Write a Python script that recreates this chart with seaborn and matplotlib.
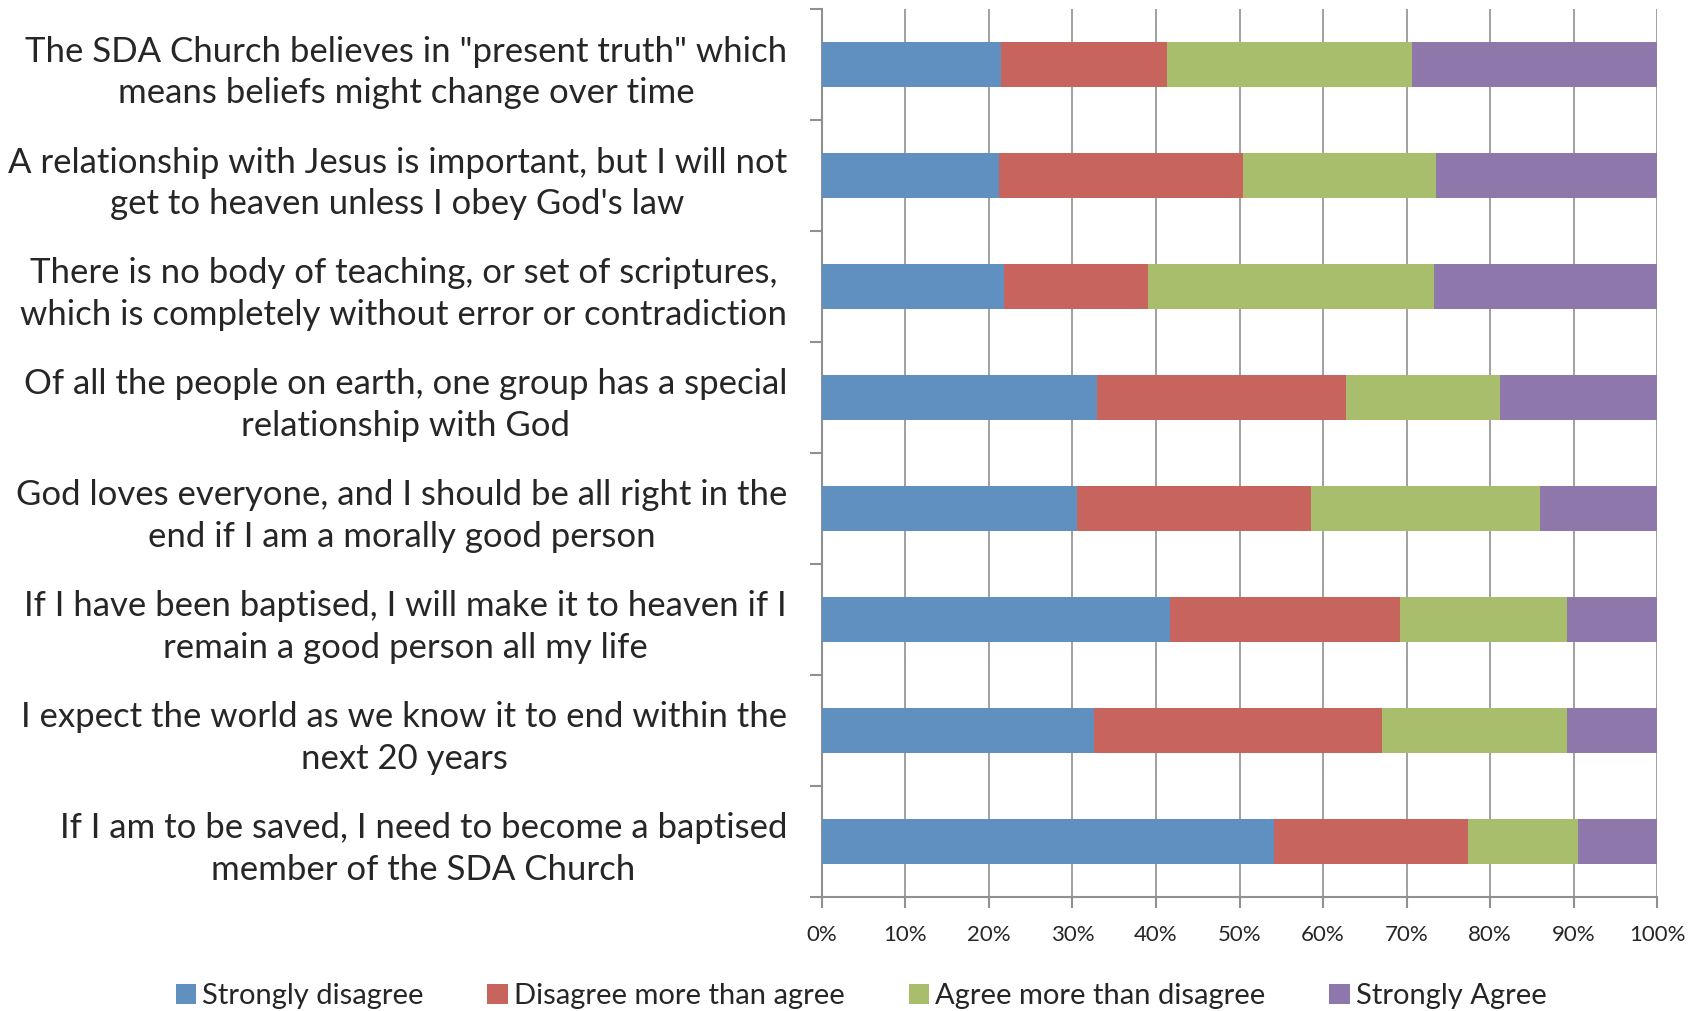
import matplotlib
matplotlib.use("Agg")
import matplotlib.pyplot as plt
import matplotlib.transforms as mtransforms
import seaborn as sns
import pandas as pd
import numpy as np
from matplotlib.patches import Patch

categories = [
    'The SDA Church believes in "present truth" which\nmeans beliefs might change over time',
    "A relationship with Jesus is important, but I will not\nget to heaven unless I obey God's law",
    "There is no body of teaching, or set of scriptures,\nwhich is completely without error or contradiction",
    "Of all the people on earth, one group has a special\nrelationship with God",
    "God loves everyone, and I should be all right in the\nend if I am a morally good person",
    "If I have been baptised, I will make it to heaven if I\nremain a good person all my life",
    "I expect the world as we know it to end within the\nnext 20 years",
    "If I am to be saved, I need to become a baptised\nmember of the SDA Church",
]
strongly_disagree = [21.5, 21.2, 21.8, 32.9, 30.6, 41.7, 32.6, 54.1]
disagree_more = [19.8, 29.2, 17.3, 29.9, 27.9, 27.5, 34.5, 23.2]
agree_more = [29.4, 23.1, 34.2, 18.4, 27.5, 20.0, 22.1, 13.2]
strongly_agree = [29.3, 26.5, 26.7, 18.8, 14.0, 10.8, 10.8, 9.5]
series_names = ["Strongly disagree", "Disagree more than agree",
                "Agree more than disagree", "Strongly Agree"]
colors = ["#6090C0", "#C8645E", "#A8BE6C", "#8E78AB"]
x_ticks = [0, 10, 20, 30, 40, 50, 60, 70, 80, 90, 100]
x_ticklabels = [f"{t}%" for t in x_ticks]

sns.set_theme(style="white")
plt.rcParams["font.family"] = ["Lato", "DejaVu Sans"]

vals = np.array([strongly_disagree, disagree_more, agree_more, strongly_agree], dtype=float)
tot = vals.sum(axis=0)
vals = vals / tot * 100
cum = np.cumsum(vals, axis=0)

fig = plt.figure(figsize=(16.98, 10.11), dpi=100)
ax = fig.add_axes([0.484, 0.113, 0.492, 0.878])

for i in range(3, -1, -1):
    df = pd.DataFrame({"cat": categories, "val": cum[i]})
    sns.barplot(data=df, x="val", y="cat", order=categories, color=colors[i],
                orient="h", width=0.41, saturation=1, ax=ax, zorder=3,
                linewidth=0, edgecolor="none")

ax.set_xlim(0, 100)
ax.set_ylim(7.5, -0.5)
ax.set_xticks(x_ticks)
ax.set_xticklabels(x_ticklabels, fontsize=16)
ax.set_yticks(np.arange(-0.5, 8.0, 1.0))
ax.set_yticklabels([])
ax.set_yticks(np.arange(8), minor=True)
ax.set_yticklabels(categories, minor=True, fontsize=25, ha="right",
                   multialignment="center", linespacing=1.36)
shift = mtransforms.ScaledTranslation(0, 3 / 100, fig.dpi_scale_trans)
for lab in ax.get_yticklabels(minor=True):
    lab.set_transform(lab.get_transform() + shift)
ax.tick_params(axis="y", which="minor", length=0, pad=25)
ax.tick_params(axis="y", which="major", length=9, width=1.5, color="#909090", direction="out", left=True)
ax.tick_params(axis="x", length=8, width=1.5, color="#909090", direction="out", bottom=True, pad=12)
ax.set_xlabel("")
ax.set_ylabel("")
ax.xaxis.grid(True, color="#A0A0A0", linewidth=1.4, zorder=0)
ax.yaxis.grid(False)
ax.set_axisbelow(True)
for s in ["top", "right"]:
    ax.spines[s].set_visible(False)
for s in ["left", "bottom"]:
    ax.spines[s].set_color("#909090")
    ax.spines[s].set_linewidth(1.5)

handles = [Patch(facecolor=c, edgecolor="none", label=n) for c, n in zip(colors, series_names)]
fig.legend(handles=handles, loc="lower center", bbox_to_anchor=(0.507, -0.024), ncol=4,
           frameon=False, fontsize=21, handlelength=0.7, handleheight=0.7,
           handletextpad=0.2, columnspacing=2.2)

fig.savefig("out.png", dpi=100)
